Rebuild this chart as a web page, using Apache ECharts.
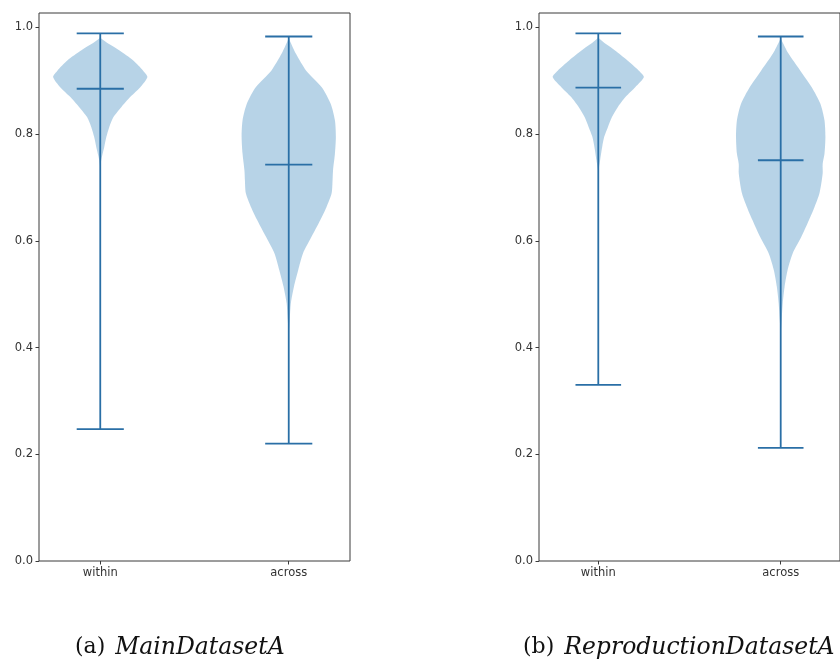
<!DOCTYPE html>
<html>
<head>
<meta charset="utf-8">
<script src="https://cdn.jsdelivr.net/npm/echarts@6/dist/echarts.min.js"></script>
<style>
  html, body { margin: 0; padding: 0; background: #ffffff; }
  #chart { width: 840px; height: 664px; }
</style>
</head>
<body>
<div id="chart"></div>
<script>
// Groups on the x axis (positions 1 and 2)
const categories = ['within', 'across'];
const yTicks = [0, 0.2, 0.4, 0.6, 0.8, 1.0];

// Panel (a): MainDatasetA — extrema and centre line per group
const mainMin = [0.247, 0.220];
const mainMax = [0.989, 0.983];
const mainMid = [0.885, 0.743];

// Panel (a) density outlines: sample levels and relative half-widths (1 = full violin width)
const mainWithinLevels = [0.989, 0.979, 0.957, 0.938, 0.919, 0.907, 0.888, 0.870, 0.851, 0.832, 0.813, 0.795, 0.776, 0.751, 0.732, 0.247];
const mainWithinWidths = [0.0, 0.02, 0.40, 0.70, 0.91, 1.00, 0.85, 0.64, 0.45, 0.28, 0.19, 0.13, 0.085, 0.02, 0.0, 0.0];
const mainAcrossLevels = [0.983, 0.976, 0.951, 0.919, 0.888, 0.857, 0.826, 0.795, 0.763, 0.732, 0.713, 0.689, 0.663, 0.639, 0.607, 0.576, 0.545, 0.514, 0.483, 0.451, 0.420, 0.220];
const mainAcrossWidths = [0.0, 0.02, 0.15, 0.37, 0.70, 0.89, 0.98, 1.00, 0.98, 0.94, 0.93, 0.91, 0.80, 0.67, 0.48, 0.30, 0.20, 0.11, 0.045, 0.02, 0.0, 0.0];

// Panel (b): ReproductionDatasetA
const reproMin = [0.330, 0.212];
const reproMax = [0.989, 0.983];
const reproMid = [0.887, 0.751];

const reproWithinLevels = [0.989, 0.979, 0.957, 0.938, 0.919, 0.907, 0.888, 0.870, 0.851, 0.832, 0.813, 0.795, 0.776, 0.751, 0.726, 0.330];
const reproWithinWidths = [0.0, 0.02, 0.36, 0.64, 0.89, 1.00, 0.81, 0.60, 0.43, 0.30, 0.21, 0.13, 0.085, 0.04, 0.0, 0.0];
const reproAcrossLevels = [0.983, 0.976, 0.951, 0.919, 0.888, 0.857, 0.826, 0.795, 0.763, 0.744, 0.726, 0.689, 0.663, 0.639, 0.607, 0.576, 0.545, 0.514, 0.483, 0.451, 0.420, 0.212];
const reproAcrossWidths = [0.0, 0.02, 0.17, 0.43, 0.68, 0.87, 0.96, 0.98, 0.96, 0.92, 0.92, 0.85, 0.74, 0.62, 0.45, 0.26, 0.15, 0.085, 0.045, 0.02, 0.0, 0.0];

const captions = [
  { tag: '(a)', name: 'MainDatasetA' },
  { tag: '(b)', name: 'ReproductionDatasetA' }
];

const VIOLIN_HALF = 0.25;   // half of the violin width in x units
const CAP_HALF = 0.125;     // half length of extrema / centre bars
const LINE_COLOR = '#2a6fa6';
const FILL_COLOR = 'rgba(31,119,180,0.32)';

const panels = [
  {
    min: mainMin, max: mainMax, mid: mainMid,
    levels: [mainWithinLevels, mainAcrossLevels],
    widths: [mainWithinWidths, mainAcrossWidths]
  },
  {
    min: reproMin, max: reproMax, mid: reproMid,
    levels: [reproWithinLevels, reproAcrossLevels],
    widths: [reproWithinWidths, reproAcrossWidths]
  }
];

function violinRenderer(panel) {
  return function (params, api) {
    const i = api.value(0);
    const pos = i + 1;
    const lv = panel.levels[i];
    const wd = panel.widths[i];
    const right = [];
    const left = [];
    for (let k = 0; k < lv.length; k++) {
      right.push(api.coord([pos + VIOLIN_HALF * wd[k], lv[k]]));
      left.push(api.coord([pos - VIOLIN_HALF * wd[k], lv[k]]));
    }
    const points = right.concat(left.reverse());
    const seg = function (x1, y1, x2, y2) {
      const a = api.coord([x1, y1]);
      const b = api.coord([x2, y2]);
      return {
        type: 'line',
        shape: { x1: a[0], y1: a[1], x2: b[0], y2: b[1] },
        style: { stroke: LINE_COLOR, lineWidth: 1.8 }
      };
    };
    return {
      type: 'group',
      children: [
        { type: 'polygon', shape: { points: points, smooth: 0.25 }, style: { fill: FILL_COLOR, stroke: null } },
        seg(pos, panel.min[i], pos, panel.max[i]),
        seg(pos - CAP_HALF, panel.max[i], pos + CAP_HALF, panel.max[i]),
        seg(pos - CAP_HALF, panel.min[i], pos + CAP_HALF, panel.min[i]),
        seg(pos - CAP_HALF, panel.mid[i], pos + CAP_HALF, panel.mid[i])
      ]
    };
  };
}

const chart = echarts.init(document.getElementById('chart'), null, { renderer: 'canvas' });

const gridLefts = [39, 539];
const tickFont = { color: '#333', fontSize: 11.5, fontFamily: 'DejaVu Sans' };

const option = {
  animation: false,
  backgroundColor: '#ffffff',
  grid: gridLefts.map(l => ({
    left: l, top: 13, width: 311, height: 548,
    show: true, borderColor: '#3a3a3a', borderWidth: 1, backgroundColor: 'transparent'
  })),
  xAxis: gridLefts.map((l, g) => ({
    type: 'value', gridIndex: g, min: 0.675, max: 2.325,
    axisLine: { show: false },
    splitLine: { show: false },
    axisTick: { show: true, inside: false, length: 3.5, lineStyle: { color: '#3a3a3a' }, customValues: [1, 2] },
    axisLabel: Object.assign({
      margin: 6,
      customValues: [1, 2],
      formatter: v => categories[Math.round(v) - 1] || ''
    }, tickFont)
  })),
  yAxis: gridLefts.map((l, g) => ({
    type: 'value', gridIndex: g, min: 0, max: 1.027,
    axisLine: { show: false },
    splitLine: { show: false },
    axisTick: { show: true, inside: false, length: 3.5, lineStyle: { color: '#3a3a3a' }, customValues: yTicks },
    axisLabel: Object.assign({
      margin: 6,
      customValues: yTicks,
      formatter: v => v.toFixed(1)
    }, tickFont)
  })),
  title: captions.map((c, g) => ({
    text: '{t|' + c.tag + '}  {n|' + c.name + '}',
    left: g === 0 ? 75 : 523,
    top: 636,
    padding: 0,
    textStyle: {
      fontWeight: 'normal',
      rich: {
        t: { fontFamily: 'DejaVu Serif', fontSize: 22, color: '#111', fontStyle: 'normal', fontWeight: 'normal' },
        n: { fontFamily: 'DejaVu Serif', fontSize: 23.5, color: '#111', fontStyle: 'italic', fontWeight: 'normal' }
      }
    }
  })),
  series: panels.map((p, g) => ({
    type: 'custom',
    xAxisIndex: g,
    yAxisIndex: g,
    clip: false,
    renderItem: violinRenderer(p),
    data: categories.map((c, i) => [i]),
    encode: { x: 0 }
  }))
};

chart.setOption(option);
</script>
</body>
</html>
